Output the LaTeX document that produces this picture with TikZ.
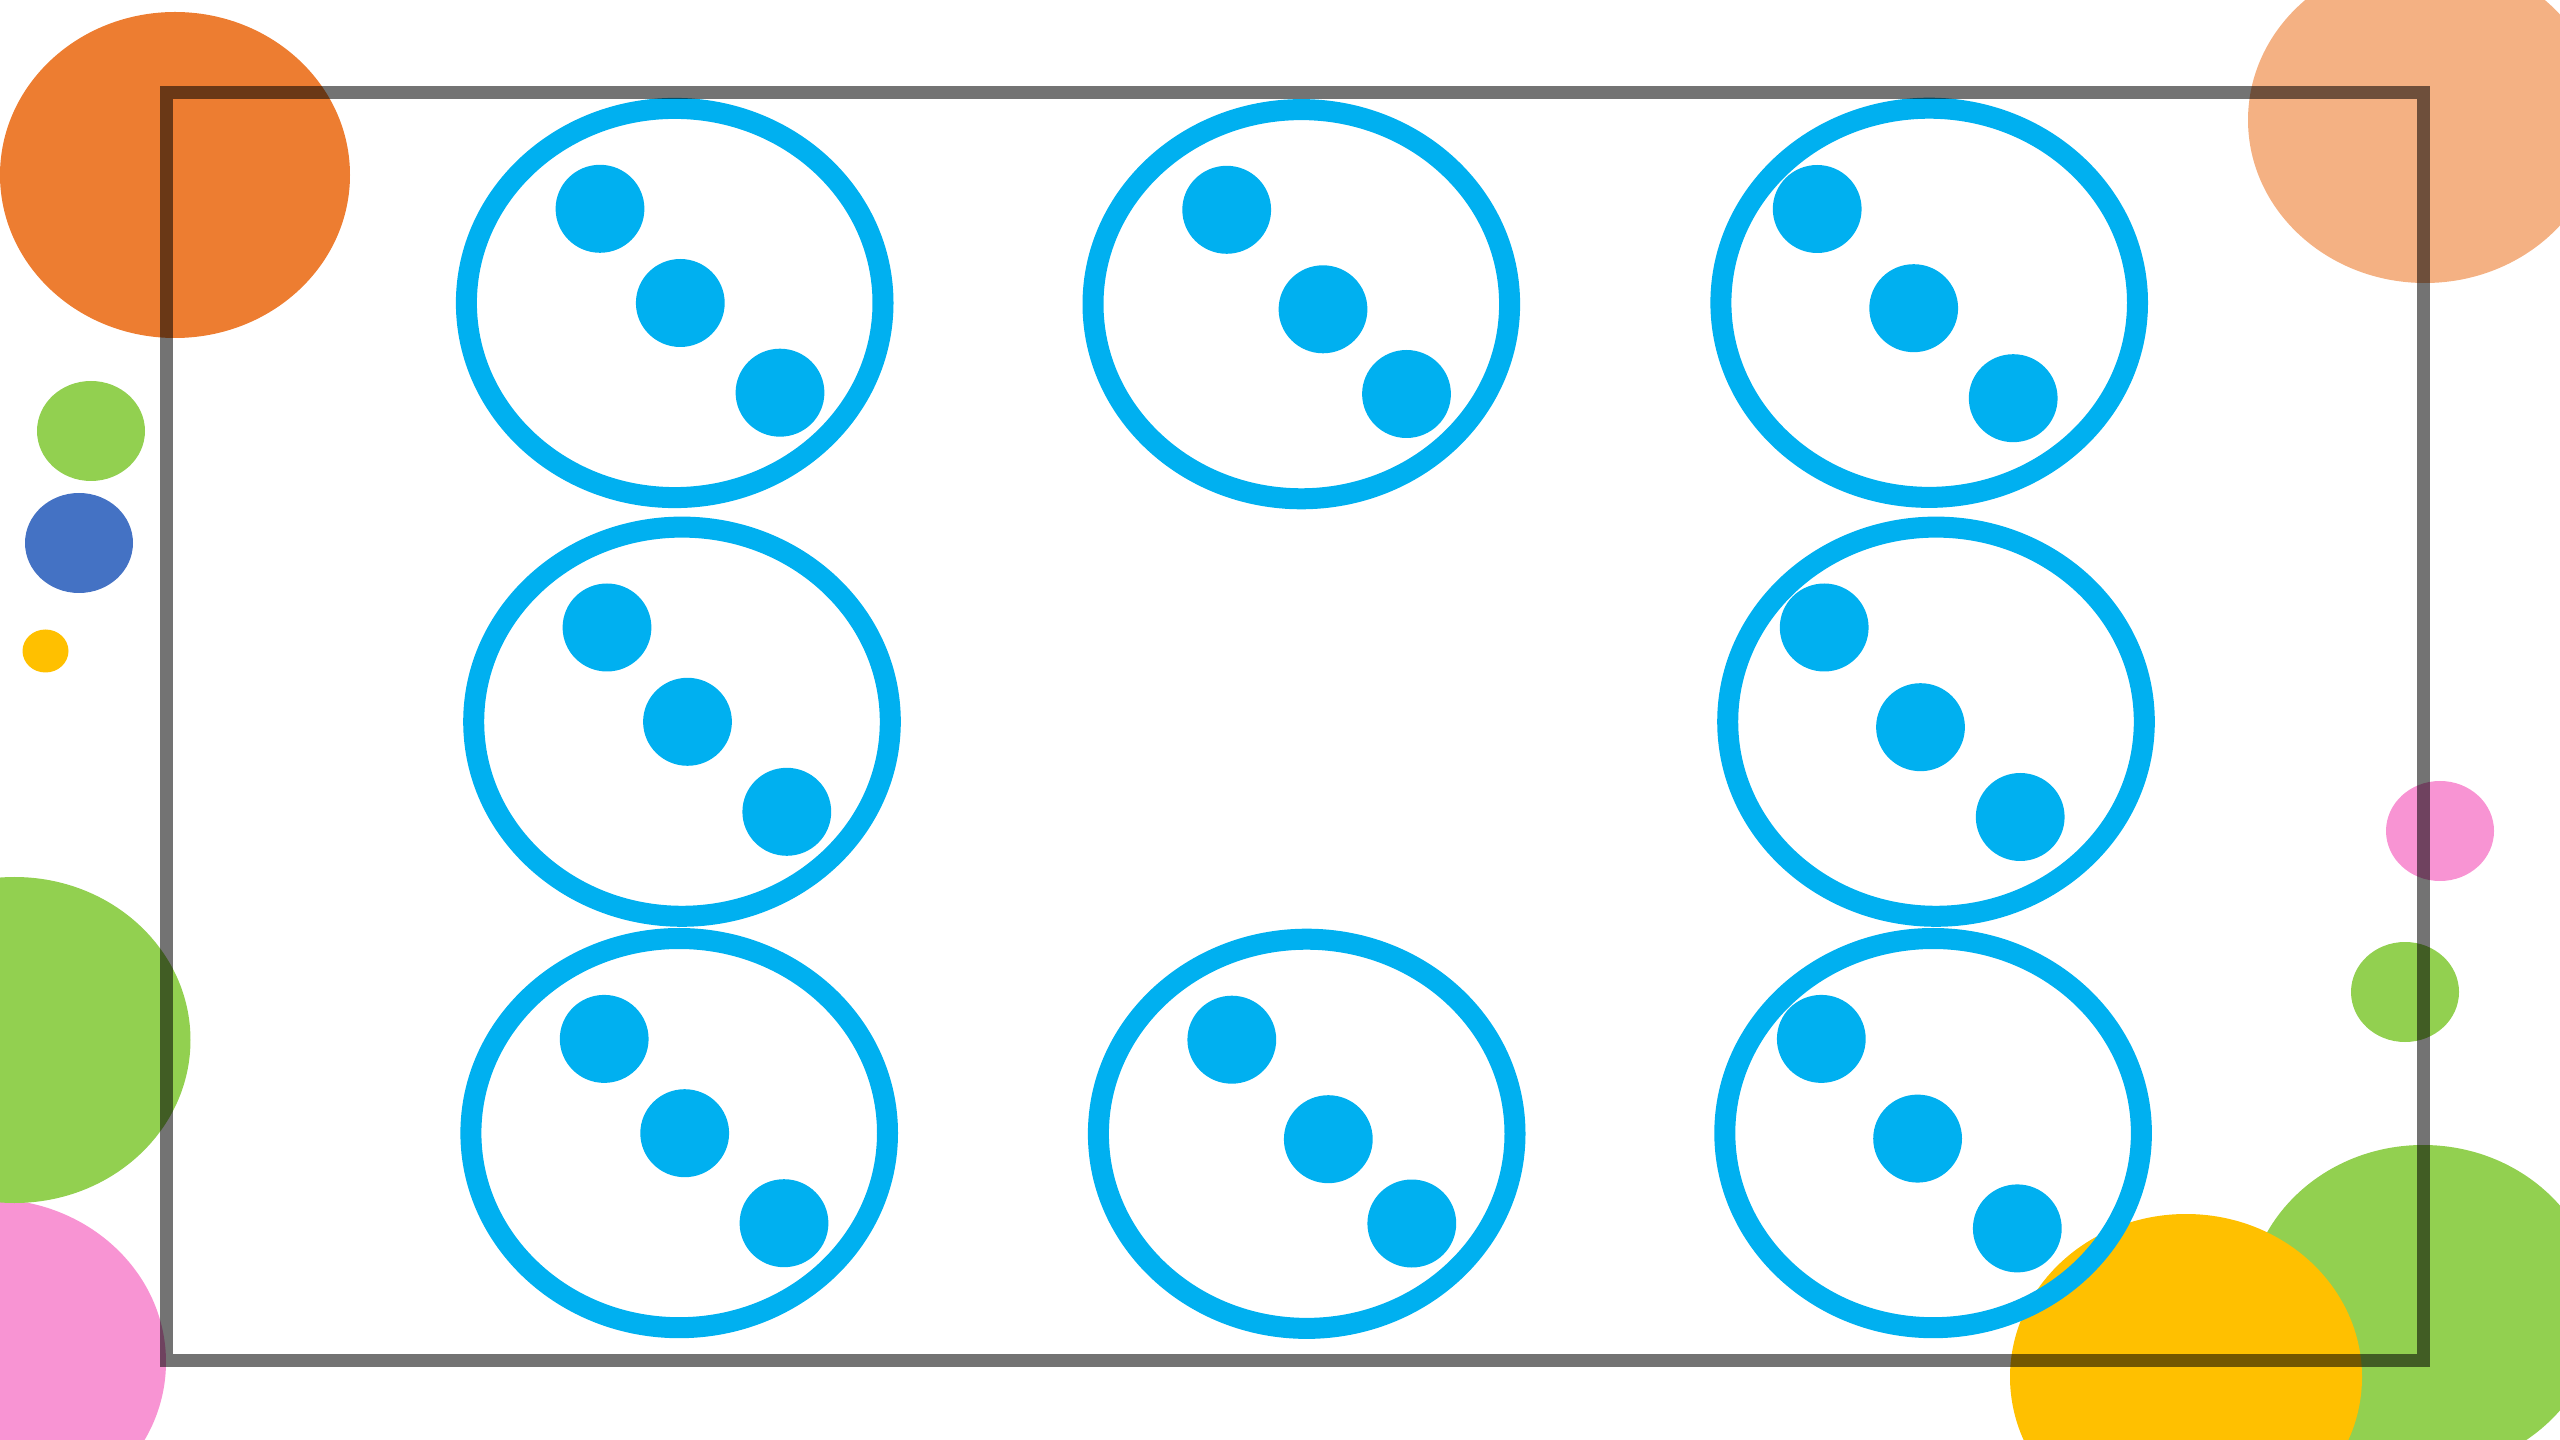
\documentclass[tikz,border=0pt]{standalone}
\begin{document}
\begin{tikzpicture}[x=0.01cm,y=-0.01cm,
  bub/.style={fill=#1},
  ring/.style={draw=ringblue,line width=0.21cm},
  dot/.style={fill=ringblue},
  frame/.style={draw=black,draw opacity=0.55,line width=0.13cm,line join=miter}]
\definecolor{ringblue}{HTML}{00B0F0}
\definecolor{corange}{HTML}{ED7D31}
\definecolor{clorange}{HTML}{F4B183}
\definecolor{cgreen}{HTML}{92D050}
\definecolor{cblue}{HTML}{4472C4}
\definecolor{cyellow}{HTML}{FFC000}
\definecolor{cpink}{HTML}{F894D3}
\useasboundingbox (0,0) rectangle (2560,1440);
\clip (0,0) rectangle (2560,1440);
% background bubbles
\fill[bub=corange] (175,175) ellipse [x radius=175,y radius=163];
\fill[bub=clorange] (2425,120) ellipse [x radius=177,y radius=163];
\fill[bub=cgreen] (91,431) ellipse [x radius=54,y radius=50];
\fill[bub=cblue] (79,543) ellipse [x radius=54,y radius=50];
\fill[bub=cyellow] (45.5,651) ellipse [x radius=23,y radius=21.5];
\fill[bub=cpink] (-10,1362) ellipse [x radius=176,y radius=163];
\fill[bub=cgreen] (14.5,1040) ellipse [x radius=176,y radius=163];
\fill[bub=cpink] (2440,831) ellipse [x radius=54,y radius=50];
\fill[bub=cgreen] (2405,992) ellipse [x radius=54,y radius=50];
\fill[bub=cgreen] (2423,1308) ellipse [x radius=176,y radius=163];
\fill[bub=cyellow] (2186,1377) ellipse [x radius=176,y radius=163];
% rings
\foreach \cx/\cy in {674.7/303, 1301.3/304.2, 1929.2/302.8, 682/721.7, 1936/721.7, 679.2/1133.1, 1306.7/1133.8, 1933.1/1133.1}
  \draw[ring] (\cx,\cy) ellipse [x radius=208.3,y radius=194.6];
% dots
\foreach \dx/\dy in {600/208.8, 680.3/303, 780/392.7,
                     1226.7/209.8, 1323/309.3, 1406.5/394,
                     1817.2/209, 1913.7/308.2, 2013.2/398.2,
                     607/627.5, 687.5/721.8, 786.8/811.8,
                     1824.2/627.5, 1920.5/727.2, 2020.2/817,
                     604.2/1038.9, 684.7/1133.2, 784/1223.2,
                     1231.8/1039.7, 1328.3/1139.2, 1411.8/1223.5,
                     1821.3/1038.9, 1917.6/1138.6, 2017.3/1228.4}
  \fill[dot] (\dx,\dy) ellipse [x radius=44.4,y radius=44];
% frame
\draw[frame] (166.7,92.7) rectangle (2423.3,1360.3);
\end{tikzpicture}
\end{document}
